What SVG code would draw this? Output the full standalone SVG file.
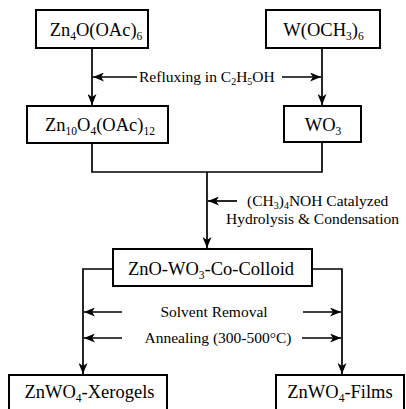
<svg xmlns="http://www.w3.org/2000/svg" width="406" height="409" viewBox="0 0 406 409">
<style>
.box{fill:#fff;stroke:#000;stroke-width:2}
.bt{font-family:"Liberation Serif","Times New Roman",serif;font-size:18.5px;fill:#000;text-anchor:middle}
.lt{font-family:"Liberation Serif","Times New Roman",serif;font-size:15.5px;fill:#000}
.c{fill:none;stroke:#000;stroke-width:1.7}
</style>
<defs>
<marker id="ah" viewBox="0 0 11 9" refX="11" refY="4.5" markerWidth="11" markerHeight="9" markerUnits="userSpaceOnUse" orient="auto">
<path d="M0,0 L11,4.5 L0,9 L3,4.5 z" fill="#000"/>
</marker>
</defs>
<rect width="406" height="409" fill="#fff"/>
<g id="connectors">
<line class="c" x1="92" y1="48" x2="92" y2="105" marker-end="url(#ah)"/>
<line class="c" x1="322" y1="48" x2="322" y2="105" marker-end="url(#ah)"/>
<line class="c" x1="137" y1="77" x2="93" y2="77" marker-end="url(#ah)"/>
<line class="c" x1="282" y1="77" x2="321" y2="77" marker-end="url(#ah)"/>
<polyline class="c" points="92,143 92,172 322,172 322,142"/>
<line class="c" x1="207" y1="172" x2="207" y2="248" marker-end="url(#ah)"/>
<line class="c" x1="237" y1="201" x2="208" y2="201" marker-end="url(#ah)"/>
<polyline class="c" points="113,269 83,269 83,374" marker-end="url(#ah)"/>
<polyline class="c" points="312,269 342,269 342,374" marker-end="url(#ah)"/>
<line class="c" x1="122" y1="312" x2="84" y2="312" marker-end="url(#ah)"/>
<line class="c" x1="303" y1="312" x2="341" y2="312" marker-end="url(#ah)"/>
<line class="c" x1="122" y1="338" x2="84" y2="338" marker-end="url(#ah)"/>
<line class="c" x1="302" y1="338" x2="341" y2="338" marker-end="url(#ah)"/>
</g>
<g id="labels">
<text class="lt" x="139" y="82">Refluxing in C<tspan font-size="10" dy="3">2</tspan><tspan dy="-3">H</tspan><tspan font-size="10" dy="3">5</tspan><tspan dy="-3">OH</tspan></text>
<text class="lt" x="247" y="206">(CH<tspan font-size="10" dy="3">3</tspan><tspan dy="-3">)</tspan><tspan font-size="10" dy="3">4</tspan><tspan dy="-3">NOH Catalyzed</tspan></text>
<text class="lt" x="226" y="224">Hydrolysis &amp; Condensation</text>
<text class="lt" x="214" y="317" text-anchor="middle">Solvent Removal</text>
<text class="lt" x="218" y="343" text-anchor="middle">Annealing (300-500°C)</text>
</g>
<g id="n1">
<rect class="box" x="36" y="10" width="112" height="38"/>
<text class="bt" x="96" y="36">Zn<tspan font-size="11.5" dy="4">4</tspan><tspan dy="-4">O(OAc)</tspan><tspan font-size="11.5" dy="4">6</tspan></text>
</g>
<g id="n2">
<rect class="box" x="266" y="10" width="114" height="38"/>
<text class="bt" x="323.5" y="36">W(OCH<tspan font-size="11.5" dy="4">3</tspan><tspan dy="-4">)</tspan><tspan font-size="11.5" dy="4">6</tspan></text>
</g>
<g id="n3">
<rect class="box" x="27" y="106" width="141" height="37"/>
<text class="bt" x="100" y="131">Zn<tspan font-size="11.5" dy="4">10</tspan><tspan dy="-4">O</tspan><tspan font-size="11.5" dy="4">4</tspan><tspan dy="-4">(OAc)</tspan><tspan font-size="11.5" dy="4">12</tspan></text>
</g>
<g id="n4">
<rect class="box" x="284" y="106" width="77" height="36"/>
<text class="bt" x="323" y="131">WO<tspan font-size="11.5" dy="4">3</tspan></text>
</g>
<g id="n5">
<rect class="box" x="113" y="249" width="199" height="37"/>
<text class="bt" x="211" y="275">ZnO-WO<tspan font-size="11.5" dy="4">3</tspan><tspan dy="-4">-Co-Colloid</tspan></text>
</g>
<g id="n6">
<rect class="box" x="9" y="375" width="158" height="50"/>
<text class="bt" x="89.5" y="398">ZnWO<tspan font-size="11.5" dy="4">4</tspan><tspan dy="-4">-Xerogels</tspan></text>
</g>
<g id="n7">
<rect class="box" x="276" y="375" width="128" height="50"/>
<text class="bt" x="340" y="398">ZnWO<tspan font-size="11.5" dy="4">4</tspan><tspan dy="-4">-Films</tspan></text>
</g>
</svg>
